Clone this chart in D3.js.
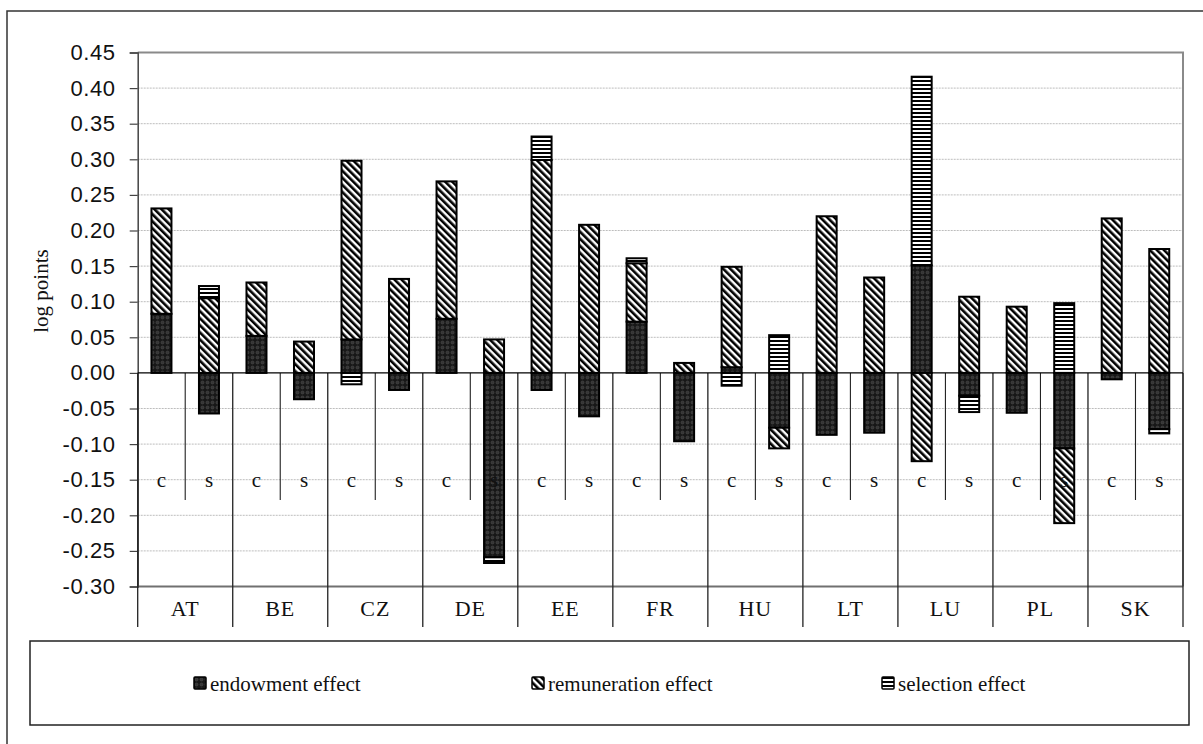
<!DOCTYPE html>
<html>
<head>
<meta charset="utf-8">
<script src="https://cdn.jsdelivr.net/npm/d3@7"></script>
<style>
  html, body { margin: 0; padding: 0; background: #fff; }
  svg { display: block; }
</style>
</head>
<body>
<svg id="chart" width="1203" height="744"></svg>
<script>
// ---------- data ----------
const countries = ["AT","BE","CZ","DE","EE","FR","HU","LT","LU","PL","SK"];
const groups = ["c","s"];
const seriesKeys = ["endowment","remuneration","selection"];
const seriesNames = ["endowment effect","remuneration effect","selection effect"];

const endowment_c    = [0.083, 0.052, 0.047, 0.076, -0.024, 0.072, 0.008, -0.087, 0.151, -0.056, -0.009];
const remuneration_c = [0.148, 0.075, 0.251, 0.193, 0.299, 0.082, 0.141, 0.220, -0.124, 0.093, 0.217];
const selection_c    = [0.000, 0.000, -0.016, 0.000, 0.033, 0.007, -0.018, 0.000, 0.265, 0.000, 0.000];

const endowment_s    = [-0.057, -0.037, -0.024, -0.259, -0.061, -0.096, -0.077, -0.084, -0.032, -0.106, -0.079];
const remuneration_s = [0.105, 0.044, 0.132, 0.047, 0.208, 0.014, -0.029, 0.134, 0.107, -0.105, 0.174];
const selection_s    = [0.017, 0.000, 0.000, -0.008, 0.000, 0.000, 0.053, 0.000, -0.023, 0.098, -0.006];

const tickValues = [0.45,0.40,0.35,0.30,0.25,0.20,0.15,0.10,0.05,0.00,-0.05,-0.10,-0.15,-0.20,-0.25,-0.30];
const tickLabels = ["0.45","0.40","0.35","0.30","0.25","0.20","0.15","0.10","0.05","0.00","-0.05","-0.10","-0.15","-0.20","-0.25","-0.30"];

// ---------- build rows ----------
const rows = [];
countries.forEach((ct, i) => {
  rows.push({country: ct, group: "c", endowment: endowment_c[i], remuneration: remuneration_c[i], selection: selection_c[i]});
  rows.push({country: ct, group: "s", endowment: endowment_s[i], remuneration: remuneration_s[i], selection: selection_s[i]});
});

// ---------- layout ----------
const svg = d3.select("#chart");
const L = 137.7, R = 1183, T = 52.5, B = 586.5;

const x = d3.scaleBand().domain(countries).range([L, R]).padding(0);
const xi = d3.scaleBand().domain(groups).range([0, x.bandwidth()]).paddingInner(0.579).paddingOuter(0.2895);
const y = d3.scaleLinear().domain([-0.30, 0.45]).range([B, T]);

const serif = "'Liberation Serif','Times New Roman',serif";
const sans = "'Liberation Sans',Arial,sans-serif";

// ---------- patterns ----------
const defs = svg.append("defs");
const pDots = defs.append("pattern").attr("id","pDots").attr("patternUnits","userSpaceOnUse")
  .attr("width",5).attr("height",5);
pDots.append("rect").attr("width",5).attr("height",5).attr("fill","#171717");
pDots.append("circle").attr("cx",2.5).attr("cy",2.5).attr("r",1.5).attr("fill","#343434").attr("stroke","#484848").attr("stroke-width",0.6);

const pDiag = defs.append("pattern").attr("id","pDiag").attr("patternUnits","userSpaceOnUse")
  .attr("width",5).attr("height",10).attr("patternTransform","rotate(-45)");
pDiag.append("rect").attr("width",5).attr("height",10).attr("fill","#fff");
pDiag.append("rect").attr("width",2.6).attr("height",10).attr("fill","#000");

const pHor = defs.append("pattern").attr("id","pHor").attr("patternUnits","userSpaceOnUse")
  .attr("width",10).attr("height",4);
pHor.append("rect").attr("width",10).attr("height",4).attr("fill","#fff");
pHor.append("rect").attr("width",10).attr("height",2).attr("fill","#000");

const fills = {endowment: "url(#pDots)", remuneration: "url(#pDiag)", selection: "url(#pHor)"};

// ---------- outer border ----------
svg.append("rect").attr("x",7).attr("y",11).attr("width",1230).attr("height",800)
  .attr("fill","none").attr("stroke","#333").attr("stroke-width",1.5);

// ---------- gridlines ----------
svg.append("g").selectAll("line")
  .data(tickValues.filter(v => v !== 0.45 && v !== -0.30 && v !== 0))
  .join("line")
  .attr("x1", L).attr("x2", R)
  .attr("y1", d => y(d)).attr("y2", d => y(d))
  .attr("stroke","#bdbdbd").attr("stroke-width",1).attr("stroke-dasharray","2,1");

// plot frame (top/right/bottom gray)
svg.append("path")
  .attr("d", `M${L},${T}H${R}V${B}`)
  .attr("fill","none").attr("stroke","#8a8a8a").attr("stroke-width",2);
svg.append("line").attr("x1",L).attr("x2",R).attr("y1",y(-0.30)).attr("y2",y(-0.30))
  .attr("stroke","#707070").attr("stroke-width",2);

// ---------- y axis ----------
const yAxis = d3.axisLeft(y).tickValues(tickValues)
  .tickFormat((d,i) => tickLabels[i]).tickSize(8).tickPadding(14);
const gy = svg.append("g").attr("transform",`translate(${L},0)`).call(yAxis);
gy.select(".domain").attr("stroke","#444").attr("stroke-width",1.5);
gy.selectAll(".tick line").attr("stroke","#444").attr("stroke-width",1.2);
gy.selectAll(".tick text").attr("font-family",sans).attr("font-size",22)
  .attr("letter-spacing","0.6px").attr("fill","#111");

// y title
svg.append("text").attr("transform","translate(41,291) rotate(-90)")
  .attr("text-anchor","middle").attr("dominant-baseline","central")
  .attr("font-family",serif).attr("font-size",21).attr("fill","#111").text("log points");

// ---------- category separators ----------
const majors = countries.map(c => x(c)).concat([R]);
svg.append("g").selectAll("line").data(majors).join("line")
  .attr("x1", d => d).attr("x2", d => d)
  .attr("y1", y(0)).attr("y2", 627)
  .attr("stroke","#222").attr("stroke-width",1.3);
svg.append("g").selectAll("line").data(countries).join("line")
  .attr("x1", d => x(d) + x.bandwidth()/2).attr("x2", d => x(d) + x.bandwidth()/2)
  .attr("y1", y(0)).attr("y2", 500)
  .attr("stroke","#222").attr("stroke-width",1.1);

// ---------- bars ----------
const stack = d3.stack().keys(seriesKeys).offset(d3.stackOffsetDiverging);
const stacked = stack(rows);
const gBars = svg.append("g");
stacked.forEach(layer => {
  gBars.append("g").selectAll("rect")
    .data(layer.filter(d => d[1] - d[0] !== 0))
    .join("rect")
    .attr("x", d => x(d.data.country) + xi(d.data.group))
    .attr("width", xi.bandwidth())
    .attr("y", d => y(Math.max(d[0], d[1])))
    .attr("height", d => Math.abs(y(d[0]) - y(d[1])))
    .attr("fill", fills[layer.key])
    .attr("stroke","#000").attr("stroke-width",2);
});

// zero line
svg.append("line").attr("x1",L).attr("x2",R).attr("y1",y(0)).attr("y2",y(0))
  .attr("stroke","#000").attr("stroke-width",1.2);

// ---------- c / s labels ----------
svg.append("g").selectAll("text").data(rows).join("text")
  .attr("x", d => x(d.country) + xi(d.group) + xi.bandwidth()/2)
  .attr("y", y(-0.15))
  .attr("text-anchor","middle").attr("dominant-baseline","central")
  .attr("font-family",serif).attr("font-size",21).attr("fill","#111")
  .text(d => d.group);

// ---------- country labels ----------
svg.append("g").selectAll("text").data(countries).join("text")
  .attr("x", d => x(d) + x.bandwidth()/2)
  .attr("y", 608)
  .attr("text-anchor","middle").attr("dominant-baseline","central")
  .attr("font-family",serif).attr("font-size",22).attr("letter-spacing","1px").attr("fill","#111")
  .text(d => d);

// ---------- legend ----------
svg.append("rect").attr("x",30).attr("y",641).attr("width",1159).attr("height",84)
  .attr("fill","#fff").attr("stroke","#222").attr("stroke-width",1.5);
const legX = [194, 532, 882];
const leg = svg.append("g").selectAll("g").data(seriesKeys).join("g")
  .attr("transform", (d,i) => `translate(${legX[i]},677)`);
leg.append("rect").attr("width",12).attr("height",12)
  .attr("fill", d => fills[d]).attr("stroke","#000").attr("stroke-width",1.5).attr("rx",1);
leg.append("text").attr("x",16).attr("y",7)
  .attr("dominant-baseline","central")
  .attr("font-family",serif).attr("font-size",21).attr("fill","#111")
  .text((d,i) => seriesNames[i]);
</script>
</body>
</html>
